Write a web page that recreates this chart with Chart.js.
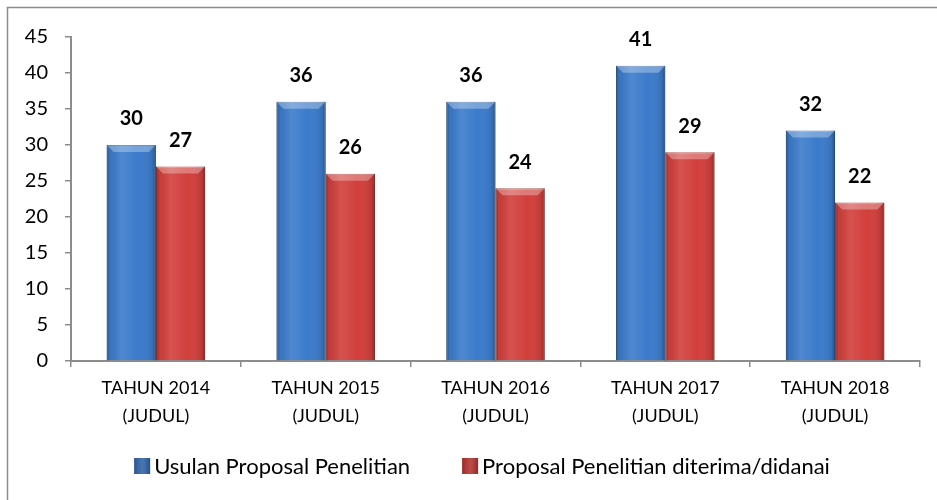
<!DOCTYPE html>
<html><head><meta charset="utf-8">
<script src="https://cdn.jsdelivr.net/npm/chart.js@4"></script>
<style>html,body{margin:0;padding:0;background:#fff}#wrap{width:937px;height:500px;position:relative}</style>
</head><body><div id="wrap"><canvas id="c"></canvas></div>
<script>
const categories = [["TAHUN 2014","(JUDUL)"],["TAHUN 2015","(JUDUL)"],["TAHUN 2016","(JUDUL)"],["TAHUN 2017","(JUDUL)"],["TAHUN 2018","(JUDUL)"]];
const seriesNames = ["Usulan Proposal Penelitian","Proposal Penelitian diterima/didanai"];
const usulan = [30,36,36,41,32];
const diterima = [27,26,24,29,22];
const yMin = 0, yMax = 45, yStep = 5;

const FONT = "Lato, 'Open Sans', sans-serif";
const legendColors = ['#2f63a9','#b3322f'];

const framePlugin = {
  id:'frame',
  beforeDraw(chart){
    const c = chart.ctx;
    c.save();
    c.fillStyle='#fff';
    c.fillRect(0,0,chart.width,chart.height);
    c.strokeStyle='#8c8c8c';
    c.lineWidth=1.5;
    c.strokeRect(7.5,7.5,chart.width+20,chart.height+20);
    c.restore();
  }
};

const shadePlugin = {
  id:'shade',
  afterDatasetsDraw(chart){
    const c = chart.ctx;
    chart.data.datasets.forEach((ds,di)=>{
      const meta = chart.getDatasetMeta(di);
      meta.data.forEach((bar)=>{
        const p = bar.getProps(['x','y','base','width'], true);
        const l = p.x - p.width/2, r = p.x + p.width/2, t = p.y, b = p.base;
        c.save();
        const g = c.createLinearGradient(l,0,r,0);
        g.addColorStop(0,'rgba(0,0,0,0.30)');
        g.addColorStop(0.07,'rgba(0,0,0,0.06)');
        g.addColorStop(0.3,'rgba(255,255,255,0.10)');
        g.addColorStop(0.65,'rgba(255,255,255,0)');
        g.addColorStop(0.93,'rgba(0,0,0,0.10)');
        g.addColorStop(1,'rgba(0,0,0,0.35)');
        c.fillStyle=g;
        c.fillRect(l,t,r-l,b-t);
        const bv = 7;
        c.beginPath();
        c.moveTo(l,t); c.lineTo(r,t); c.lineTo(r-bv,t+bv); c.lineTo(l+bv,t+bv); c.closePath();
        c.fillStyle='rgba(255,255,255,0.30)';
        c.fill();
        c.restore();
      });
    });
  }
};

const labelPlugin = {
  id:'vlabels',
  afterDatasetsDraw(chart){
    const c = chart.ctx;
    c.save();
    c.font = "bold 20px " + FONT;
    c.fillStyle='#000';
    c.textAlign='center';
    c.textBaseline='middle';
    chart.data.datasets.forEach((ds,di)=>{
      const meta = chart.getDatasetMeta(di);
      meta.data.forEach((bar,i)=>{
        const p = bar.getProps(['x','y'], true);
        c.fillText(String(ds.data[i]), p.x, p.y - 26);
      });
    });
    c.restore();
  }
};

const legendPlugin = {
  id:'customLegend',
  afterDraw(chart){
    const c = chart.ctx;
    c.save();
    c.font = "22px " + FONT;
    const box = 16, gap = 4, itemGap = 52, cy = 466, center = 482;
    const names = chart.data.datasets.map(d=>d.label);
    const widths = names.map(n=>box+gap+c.measureText(n).width);
    const total = widths.reduce((a,b)=>a+b,0) + itemGap*(names.length-1);
    let x = center - total/2;
    c.textBaseline='middle';
    c.textAlign='left';
    names.forEach((n,i)=>{
      const col = legendColors[i];
      c.fillStyle = col;
      c.fillRect(x, cy-box/2, box, box);
      const g = c.createLinearGradient(x,0,x+box,0);
      g.addColorStop(0,'rgba(0,0,0,0.15)');
      g.addColorStop(0.5,'rgba(255,255,255,0.12)');
      g.addColorStop(1,'rgba(0,0,0,0.2)');
      c.fillStyle = g;
      c.fillRect(x, cy-box/2, box, box);
      c.fillStyle='#000';
      c.fillText(n, x+box+gap, cy+1);
      x += widths[i] + itemGap;
    });
    c.restore();
  }
};

new Chart(document.getElementById('c'), {
  type:'bar',
  data:{
    labels: categories,
    datasets:[
      {label:seriesNames[0], data:usulan, backgroundColor:'#3b7bcb', borderColor:'#2c5f9f', borderWidth:1, categoryPercentage:0.58, barPercentage:1},
      {label:seriesNames[1], data:diterima, backgroundColor:'#d13f3c', borderColor:'#a02c2a', borderWidth:1, categoryPercentage:0.58, barPercentage:1}
    ]
  },
  options:{
    responsive:true, maintainAspectRatio:false, animation:false, devicePixelRatio:1,
    layout:{padding:{top:37,left:0,right:17,bottom:39}},
    plugins:{
      legend:{display:false},
      tooltip:{enabled:false}
    },
    scales:{
      x:{
        grid:{display:true, drawOnChartArea:false, drawTicks:true, tickLength:6, color:'#8c8c8c', lineWidth:1.5, offset:true},
        border:{display:true, color:'#8c8c8c', width:2},
        ticks:{font:{family:FONT,size:18,lineHeight:1.55}, color:'#000', padding:7, maxRotation:0, autoSkip:false},
        afterFit(s){ s.height = 100; }
      },
      y:{
        min:yMin, max:yMax,
        grid:{display:true, drawOnChartArea:false, drawTicks:true, tickLength:6, color:'#8c8c8c', lineWidth:1.5},
        border:{display:true, color:'#8c8c8c', width:2},
        ticks:{stepSize:yStep, font:{family:FONT,size:20}, color:'#000', padding:17},
        afterFit(s){ s.width = 71; }
      }
    }
  },
  plugins:[framePlugin, shadePlugin, labelPlugin, legendPlugin]
});
</script>
</body></html>
